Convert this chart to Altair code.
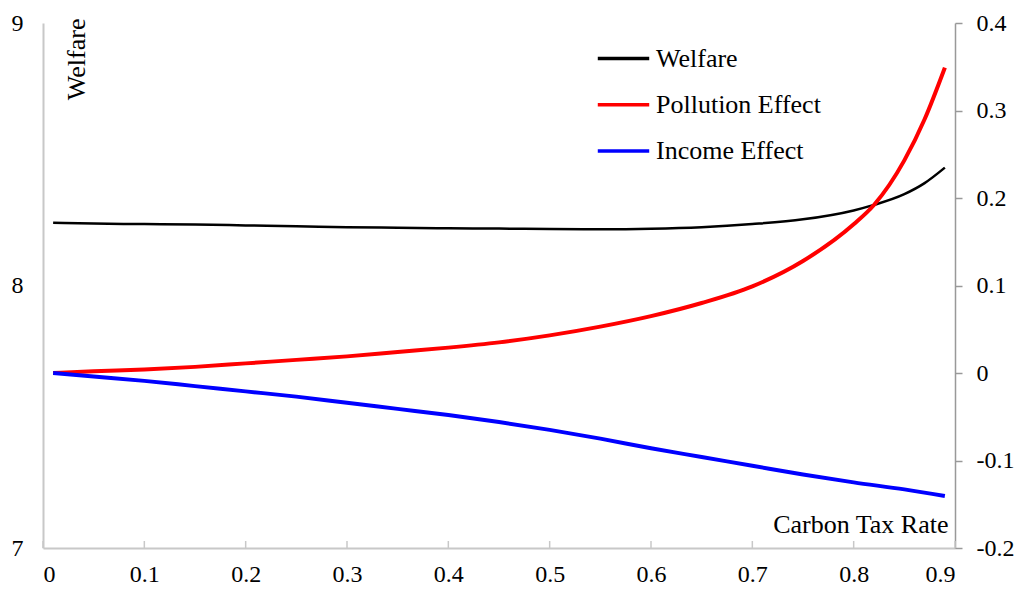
import altair as alt
import pandas as pd

# Carbon tax rate sample points and values
welfare_x = [0.01, 0.05, 0.1, 0.15, 0.2, 0.25, 0.3, 0.35, 0.4, 0.45, 0.5, 0.55,
             0.6, 0.65, 0.7, 0.75, 0.8, 0.82, 0.85, 0.87, 0.89]
welfare_y = [8.239, 8.236, 8.234, 8.232, 8.229, 8.226, 8.222, 8.220, 8.218, 8.217,
             8.215, 8.214, 8.216, 8.222, 8.234, 8.252, 8.286, 8.307, 8.348, 8.390, 8.449]

pollution_x = [0.01, 0.05, 0.1, 0.15, 0.2, 0.25, 0.3, 0.35, 0.4, 0.45, 0.5, 0.55,
               0.6, 0.65, 0.7, 0.75, 0.8, 0.82, 0.85, 0.87, 0.89]
pollution_y = [0.0, 0.002, 0.004, 0.007, 0.011, 0.015, 0.019, 0.024, 0.029, 0.035,
               0.043, 0.053, 0.065, 0.080, 0.099, 0.128, 0.170, 0.192, 0.243, 0.290, 0.349]

income_x = [0.01, 0.05, 0.1, 0.15, 0.2, 0.25, 0.3, 0.35, 0.4, 0.45, 0.5, 0.55,
            0.6, 0.65, 0.7, 0.75, 0.8, 0.85, 0.89]
income_y = [0.0, -0.004, -0.009, -0.015, -0.021, -0.027, -0.034, -0.041, -0.048, -0.056,
            -0.065, -0.075, -0.086, -0.096, -0.106, -0.116, -0.125, -0.133, -0.1405]

series_names = ["Welfare", "Pollution Effect", "Income Effect"]
series_colors = ["#000000", "#ff0000", "#0000ff"]

x_ticks = [0.0, 0.1, 0.2, 0.3, 0.4, 0.5, 0.6, 0.7, 0.8, 0.9]
left_ticks = [7, 8, 9]
right_ticks = [-0.2, -0.1, 0.0, 0.1, 0.2, 0.3, 0.4]

welfare_df = pd.DataFrame({"x": welfare_x, "v": welfare_y, "series": "Welfare"})
effects_df = pd.concat([
    pd.DataFrame({"x": pollution_x, "v": pollution_y, "series": "Pollution Effect"}),
    pd.DataFrame({"x": income_x, "v": income_y, "series": "Income Effect"}),
], ignore_index=True)
ticks_df = pd.DataFrame({"x": x_ticks})

FONT = "Liberation Serif"
W, H = 912, 525

color = alt.Color(
    "series:N",
    scale=alt.Scale(domain=series_names, range=series_colors),
    legend=alt.Legend(
        title=None,
        orient="none",
        legendX=556,
        legendY=11,
        symbolType="M-1.15,0H1.15",
        symbolSize=2000,
        symbolStrokeWidth=3.5,
        labelFont=FONT,
        labelFontSize=26,
        labelColor="#000000",
        labelOffset=8,
        labelLimit=400,
        rowPadding=8.3,
        padding=0,
    ),
)

x_enc = alt.X(
    "x:Q",
    scale=alt.Scale(domain=[0, 0.9], nice=False, zero=False),
    axis=alt.Axis(
        values=x_ticks,
        labelExpr="datum.value == 0 ? '0' : format(datum.value, '.1f')",
        ticks=False,
        grid=False,
        domainColor="#c8c8c8",
        domainWidth=2,
        labelPadding=14,
        labelFontSize=24,
        title="Carbon Tax Rate",
        titleX=905,
        titleY=-16,
        titleAlign="right",
        titleBaseline="alphabetic",
        titleFontSize=26,
    ),
)

welfare_line = alt.Chart(welfare_df).mark_line(strokeWidth=2.5, interpolate="monotone").encode(
    x=x_enc,
    y=alt.Y(
        "v:Q",
        scale=alt.Scale(domain=[7, 9], nice=False, zero=False),
        axis=alt.Axis(
            values=left_ticks,
            labelExpr="'' + datum.value",
            labelOverlap=False,
            ticks=False,
            grid=False,
            domainColor="#c8c8c8",
            domainWidth=2,
            labelPadding=20,
            labelFontSize=24,
            title="Welfare",
            titleX=41,
            titleY=-5,
            titleAngle=270,
            titleAlign="right",
            titleBaseline="alphabetic",
            titleFontSize=26,
        ),
    ),
    color=color,
)

effects_line = alt.Chart(effects_df).mark_line(strokeWidth=4, interpolate="monotone").encode(
    x=alt.X("x:Q"),
    y=alt.Y(
        "v:Q",
        scale=alt.Scale(domain=[-0.2, 0.4], nice=False, zero=False),
        axis=alt.Axis(
            orient="right",
            values=right_ticks,
            labelExpr="datum.value == 0 ? '0' : (datum.value < 0 ? '-' + format(-datum.value, '.1f') : format(datum.value, '.1f'))",
            labelOverlap=False,
            tickSize=7,
            tickColor="#999999",
            tickWidth=1.5,
            grid=False,
            domainColor="#999999",
            domainWidth=1.5,
            labelPadding=14,
            labelFontSize=24,
            title=None,
        ),
    ),
    color=color,
)

tick_rules = alt.Chart(ticks_df).mark_rule(color="#c8c8c8", strokeWidth=1.5).encode(
    x=alt.X("x:Q"),
    y=alt.value(H),
    y2=alt.value(H - 7),
)

chart = (
    alt.layer(tick_rules, welfare_line, effects_line)
    .resolve_scale(y="independent")
    .properties(
        width=W,
        height=H,
        autosize=alt.AutoSizeParams(type="none"),
        padding={"left": 35, "top": 15, "right": 60, "bottom": 39},
    )
    .configure_view(stroke=None)
    .configure_axis(labelFont=FONT, titleFont=FONT, labelColor="#000000", titleColor="#000000",
                    titleFontWeight="normal")
    .configure_legend(labelFont=FONT)
)

chart.save("out.html", embed_options={"renderer": "svg", "actions": False})
